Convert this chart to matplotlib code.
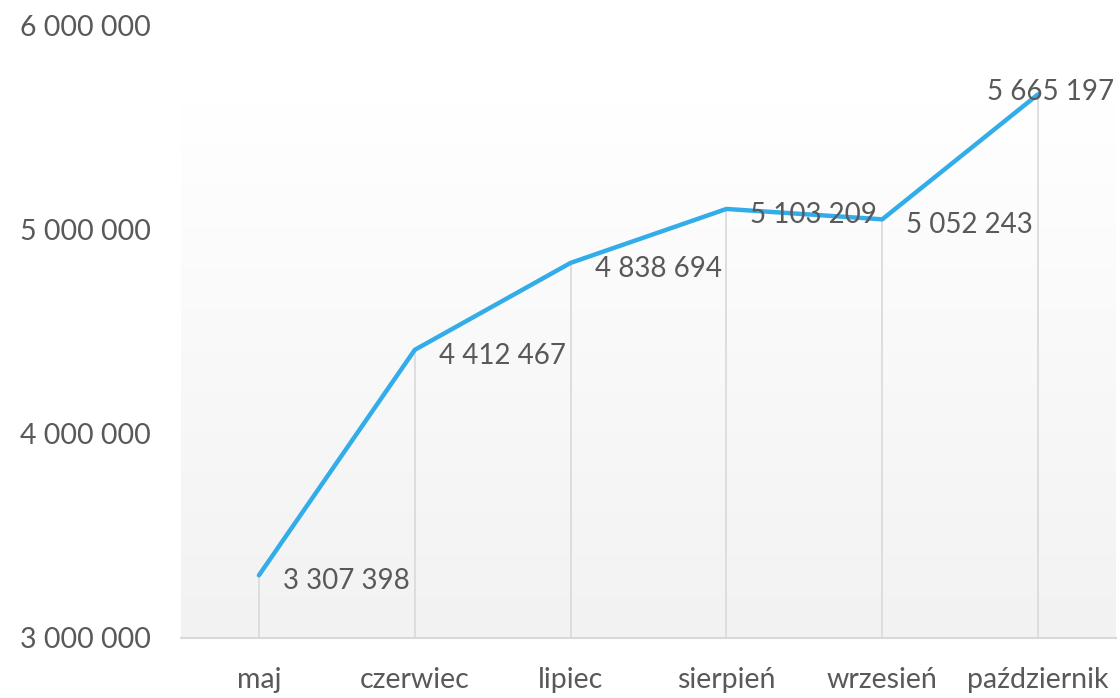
import numpy as np
import matplotlib
matplotlib.use("Agg")
import matplotlib.pyplot as plt
from matplotlib.colors import LinearSegmentedColormap

plt.rcParams['font.family'] = ['Lato', 'DejaVu Sans']

# data
months = ['maj', 'czerwiec', 'lipiec', 'sierpień', 'wrzesień', 'październik']
values = [3307398, 4412467, 4838694, 5103209, 5052243, 5665197]
y_ticks = [3000000, 4000000, 5000000, 6000000]


def fmt(v):
    return f"{v:,}".replace(",", " ")


text_col = '#595959'
line_col = '#33ade9'
grid_col = '#d9d9d9'

fig = plt.figure(figsize=(11.2, 6.98), dpi=100)
ax = fig.add_axes([181 / 1120, 60 / 698, (1116 - 181) / 1120, (672 - 60) / 698])

x = np.arange(len(months))
ax.set_xlim(-0.5, len(months) - 0.5)
ax.set_ylim(3000000, 6000000)

# gradient plot area background
cmap = LinearSegmentedColormap.from_list('bg', ['#f2f2f2', '#ffffff'])
grad = np.linspace(0, 1, 256).reshape(-1, 1)
ax.imshow(grad, cmap=cmap, aspect='auto', origin='lower',
          extent=(-0.5, len(months) - 0.5, 3000000, 5620000), zorder=0)

# drop lines
ax.vlines(x, 3000000, values, color=grid_col, lw=1.2, zorder=1)

ax.plot(x, values, color=line_col, lw=3.2, solid_capstyle='round',
        solid_joinstyle='round', zorder=3)

# data labels
for i, v in enumerate(values):
    if i == len(values) - 1:
        ax.annotate(fmt(v), (i, v), xytext=(12, 2), textcoords='offset pixels',
                    ha='center', va='center', fontsize=20, color=text_col, zorder=4)
    else:
        ax.annotate(fmt(v), (i, v), xytext=(24, -6), textcoords='offset pixels',
                    ha='left', va='center', fontsize=20, color=text_col, zorder=4)

ax.set_xticks(x)
ax.set_xticklabels(months)
ax.set_yticks(y_ticks)
ax.set_yticklabels([fmt(t) for t in y_ticks])
ax.tick_params(axis='both', length=0, labelsize=20.5, labelcolor=text_col)
ax.tick_params(axis='x', pad=21)
ax.tick_params(axis='y', pad=22)

for s in ['top', 'right', 'left']:
    ax.spines[s].set_visible(False)
ax.spines['bottom'].set_color(grid_col)
ax.spines['bottom'].set_linewidth(1.5)

fig.savefig('out.png', dpi=100)
